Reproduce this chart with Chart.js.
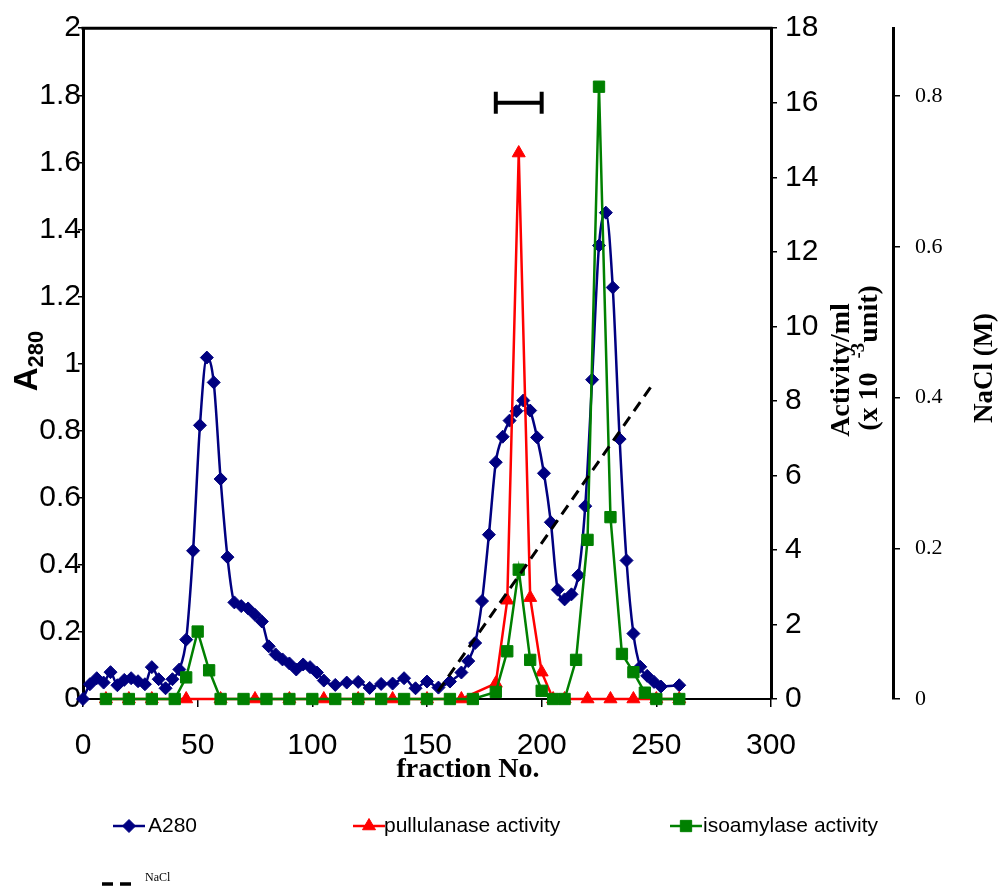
<!DOCTYPE html>
<html><head><meta charset="utf-8">
<script src="https://cdn.jsdelivr.net/npm/chart.js@4.4.1/dist/chart.umd.min.js"></script>
<style>html,body{margin:0;padding:0;background:#fff}#wrap{width:998px;height:889px;position:relative}</style>
</head><body><div id="wrap"><canvas id="c" width="998" height="889"></canvas></div>
<script>
// ---- data ----
const a280Fraction = [0,3,6,9,12,15,18,21,24,27,30,33,36,39,42,45,48,51,54,57,60,63,66,69,72,75,78,81,84,87,90,93,96,99,102,105,110,115,120,125,130,135,140,145,150,155,160,165,168,171,174,177,180,183,186,189,192,195,198,201,204,207,210,213,216,219,222,225,228,231,234,237,240,243,246,249,252,260];
const a280Values = [0,0.044,0.062,0.049,0.08,0.041,0.057,0.062,0.053,0.044,0.095,0.059,0.032,0.059,0.088,0.177,0.442,0.816,1.018,0.944,0.656,0.423,0.288,0.277,0.27,0.251,0.231,0.157,0.133,0.118,0.106,0.088,0.103,0.095,0.079,0.055,0.042,0.049,0.051,0.033,0.045,0.046,0.062,0.032,0.052,0.034,0.052,0.079,0.113,0.167,0.292,0.49,0.706,0.782,0.83,0.858,0.89,0.86,0.78,0.673,0.527,0.326,0.297,0.312,0.369,0.575,0.952,1.352,1.45,1.227,0.775,0.413,0.195,0.096,0.069,0.051,0.037,0.041];
const pullFraction = [10,20,30,45,60,75,90,105,120,135,150,165,180,185,190,195,200,205,210,220,230,240,250,260];
const pullValues = [0,0,0,0,0,0,0,0,0,0,0,0,0.42,2.65,14.65,2.72,0.72,0,0,0,0,0,0,0];
const isoFraction = [10,20,30,40,45,50,55,60,70,80,90,100,110,120,130,140,150,160,170,180,185,190,195,200,205,210,215,220,225,230,235,240,245,250,260];
const isoValues = [0,0,0,0,0.58,1.81,0.77,0,0,0,0,0,0,0,0,0,0,0,0,0.19,1.28,3.47,1.05,0.22,0,0,1.05,4.27,16.43,4.88,1.21,0.72,0.17,0,0];
const naclFraction = [154.8,248.5];
const naclValues = [0.01,0.418];
const poolFraction = [180,200];
const poolLevel = [16,16];
// tick labels
const xTicks = [0,50,100,150,200,250,300];
const a280Ticks = [0,0.2,0.4,0.6,0.8,1,1.2,1.4,1.6,1.8,2];
const activityTicks = [0,2,4,6,8,10,12,14,16,18];
const naclTicks = [0,0.2,0.4,0.6,0.8];
const seriesLabels = ['A280','pullulanase activity','isoamylase activity','NaCl'];
const xTitle = 'fraction No.';

// ---- styles ----
const NAVY = '#000080', RED = '#FF0000', GREEN = '#008000';
const SANS = '"Liberation Sans", Arial, sans-serif';
const SERIF = '"Liberation Serif", "Times New Roman", serif';
const toXY = (xs, ys) => xs.map((x, i) => ({x: x, y: ys[i]}));
const setTicks = arr => scale => { scale.ticks = arr.map(v => ({value: v})); };
const fmt = v => String(Math.round(v * 10) / 10);

function rotatedRich(ctx, cx, cy, parts) {
  ctx.save();
  ctx.translate(cx, cy);
  ctx.rotate(-Math.PI / 2);
  ctx.textAlign = 'left';
  ctx.textBaseline = 'alphabetic';
  let total = 0;
  parts.forEach(p => { ctx.font = p.font; p.w = ctx.measureText(p.t).width; total += p.w; });
  let x = -total / 2;
  parts.forEach(p => { ctx.font = p.font; ctx.fillText(p.t, x, p.dy); x += p.w; });
  ctx.restore();
}

const decorations = {
  id: 'decorations',
  afterDraw(chart) {
    const ctx = chart.ctx, area = chart.chartArea;
    ctx.save();
    // top frame line
    ctx.strokeStyle = '#000';
    ctx.lineWidth = 3;
    ctx.beginPath();
    ctx.moveTo(area.left - 1.5, area.top);
    ctx.lineTo(area.right + 1.5, area.top);
    ctx.stroke();
    ctx.fillStyle = '#000';
    // x title
    ctx.font = 'bold 28px ' + SERIF;
    ctx.textAlign = 'center';
    ctx.textBaseline = 'middle';
    ctx.fillText(xTitle, 468, 770);
    // y titles
    rotatedRich(ctx, 25, 361, [
      {t: 'A', font: 'bold 33px ' + SANS, dy: 12},
      {t: '280', font: 'bold 22px ' + SANS, dy: 18}
    ]);
    rotatedRich(ctx, 840, 370, [{t: 'Activity/ml', font: 'bold 28px ' + SERIF, dy: 9}]);
    rotatedRich(ctx, 868, 358, [
      {t: '(x 10  ', font: 'bold 28px ' + SERIF, dy: 9},
      {t: '-3', font: 'bold 19px ' + SERIF, dy: -4},
      {t: 'unit)', font: 'bold 28px ' + SERIF, dy: 9}
    ]);
    rotatedRich(ctx, 983, 368, [{t: 'NaCl (M)', font: 'bold 27px ' + SERIF, dy: 9}]);
    // legend
    const items = [
      {ds: 0, x1: 113, x2: 145, tx: 148, y: 826},
      {ds: 1, x1: 353, x2: 385, tx: 384, y: 826},
      {ds: 2, x1: 670, x2: 702, tx: 703, y: 826}
    ];
    items.forEach(it => {
      const d = chart.data.datasets[it.ds];
      ctx.strokeStyle = d.borderColor;
      ctx.fillStyle = d.borderColor;
      ctx.lineWidth = 2.5;
      ctx.setLineDash([]);
      ctx.beginPath();
      ctx.moveTo(it.x1, it.y);
      ctx.lineTo(it.x2, it.y);
      ctx.stroke();
      ctx.lineWidth = 1;
      Chart.helpers.drawPoint(ctx, {pointStyle: d.pointStyle, radius: d.pointRadius, rotation: 0, borderWidth: 1}, (it.x1 + it.x2) / 2, it.y);
      ctx.fillStyle = '#000';
      ctx.font = '21px ' + SANS;
      ctx.textAlign = 'left';
      ctx.textBaseline = 'middle';
      ctx.fillText(d.label, it.tx, it.y);
    });
    // NaCl legend
    ctx.strokeStyle = '#000';
    ctx.lineWidth = 3.5;
    ctx.setLineDash([11, 7]);
    ctx.beginPath();
    ctx.moveTo(102, 884);
    ctx.lineTo(138, 884);
    ctx.stroke();
    ctx.setLineDash([]);
    ctx.font = '12px ' + SERIF;
    ctx.textAlign = 'left';
    ctx.textBaseline = 'middle';
    ctx.fillText(seriesLabels[3], 145, 878);
    ctx.restore();
  }
};

new Chart(document.getElementById('c'), {
  type: 'line',
  data: {
    datasets: [
      {label: seriesLabels[0], data: toXY(a280Fraction, a280Values), yAxisID: 'yA',
       borderColor: NAVY, backgroundColor: NAVY, pointBackgroundColor: NAVY, pointBorderColor: NAVY,
       pointStyle: 'rectRot', pointRadius: 6.5, pointBorderWidth: 1, borderWidth: 2.5,
       cubicInterpolationMode: 'monotone', order: 4, clip: false},
      {label: seriesLabels[1], data: toXY(pullFraction, pullValues), yAxisID: 'yAct',
       borderColor: RED, backgroundColor: RED, pointBackgroundColor: RED, pointBorderColor: RED,
       pointStyle: 'triangle', pointRadius: 7.5, pointBorderWidth: 1, borderWidth: 2.5, tension: 0, order: 3, clip: false},
      {label: seriesLabels[2], data: toXY(isoFraction, isoValues), yAxisID: 'yAct',
       borderColor: GREEN, backgroundColor: GREEN, pointBackgroundColor: GREEN, pointBorderColor: GREEN,
       pointStyle: 'rect', pointRadius: 8, pointBorderWidth: 1, borderWidth: 2.5, tension: 0, order: 2, clip: false},
      {label: seriesLabels[3], data: toXY(naclFraction, naclValues), yAxisID: 'yNa',
       borderColor: '#000', borderDash: [11, 7], borderWidth: 3, pointRadius: 0, order: 1},
      {label: 'pool', data: toXY(poolFraction, poolLevel), yAxisID: 'yAct',
       borderColor: '#000', backgroundColor: '#000', pointBorderColor: '#000', borderWidth: 4,
       pointStyle: 'line', rotation: 90, pointRadius: 11, pointBorderWidth: 4, order: 0, clip: false}
    ]
  },
  options: {
    responsive: false,
    animation: false,
    events: [],
    layout: {padding: {top: 21, left: 0, right: 0, bottom: 0}},
    plugins: {legend: {display: false}, tooltip: {enabled: false}},
    scales: {
      x: {type: 'linear', position: 'bottom', min: 0, max: 300,
        afterBuildTicks: setTicks(xTicks),
        afterFit: s => { s.height = 190; },
        border: {color: '#000', width: 2},
        grid: {drawOnChartArea: false, tickLength: 8, color: '#000', lineWidth: 1.5},
        ticks: {color: '#000', font: {family: SANS, size: 30}, padding: 21, maxRotation: 0, autoSkip: false, callback: v => fmt(v)}},
      yA: {position: 'left', min: 0, max: 2,
        afterBuildTicks: setTicks(a280Ticks),
        afterFit: s => { s.width = 83; },
        border: {color: '#000', width: 3},
        grid: {drawOnChartArea: false, tickLength: 5, color: '#000', lineWidth: 1.5},
        ticks: {color: '#000', font: {family: SANS, size: 30}, padding: -3, autoSkip: false, callback: v => fmt(v)}},
      yAct: {position: 'right', min: 0, max: 18, weight: 0,
        afterBuildTicks: setTicks(activityTicks),
        afterFit: s => { s.width = 122; },
        border: {color: '#000', width: 3},
        grid: {drawOnChartArea: false, tickLength: 6, color: '#000', lineWidth: 1.5},
        ticks: {color: '#000', font: {family: SANS, size: 30}, padding: 8, autoSkip: false, callback: v => fmt(v)}},
      yNa: {position: 'right', min: 0, max: 0.89, weight: 1,
        afterBuildTicks: setTicks(naclTicks),
        afterFit: s => { s.width = 105; },
        border: {color: '#000', width: 3},
        grid: {drawOnChartArea: false, tickLength: 7, color: '#000', lineWidth: 1.5},
        ticks: {color: '#000', font: {family: SERIF, size: 22}, padding: 15, autoSkip: false, callback: v => fmt(v)}}
    }
  },
  plugins: [decorations]
});
</script>
</body></html>
